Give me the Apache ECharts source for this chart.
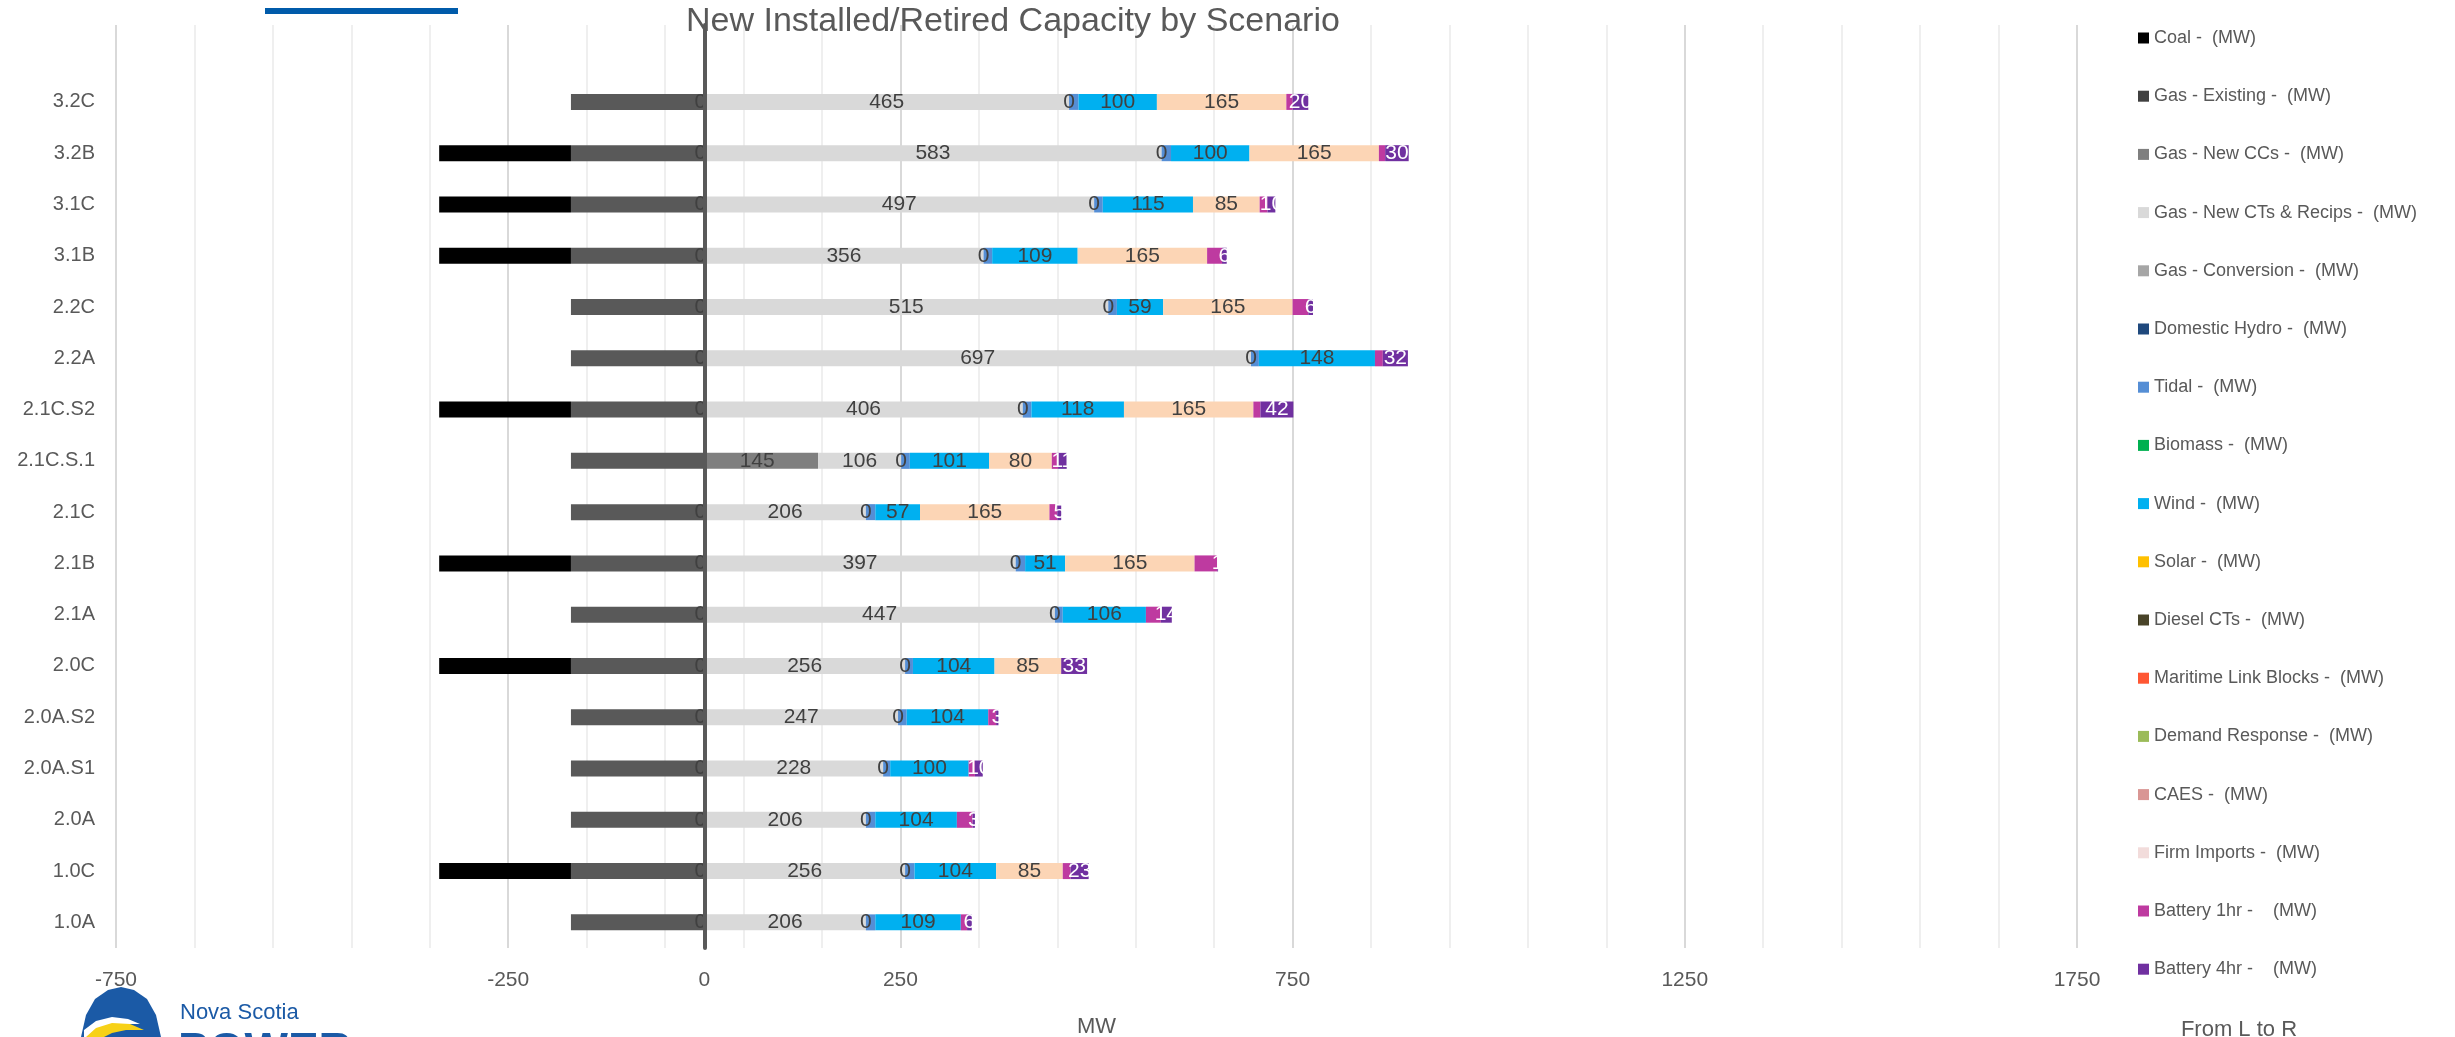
<!DOCTYPE html>
<html>
<head>
<meta charset="utf-8">
<script src="https://cdn.jsdelivr.net/npm/echarts@6/dist/echarts.min.js"></script>
<style>
html,body{margin:0;padding:0;background:#fff;}
#chart{width:2455px;height:1037px;}
</style>
</head>
<body>
<div id="chart"></div>
<script>
// Categories, bottom to top
const categories = ['1.0A','1.0C','2.0A','2.0A.S1','2.0A.S2','2.0C','2.1A','2.1B','2.1C','2.1C.S.1','2.1C.S2','2.2A','2.2C','3.1B','3.1C','3.2B','3.2C'];

// Series values (MW)
const coal           = [0,-168,0,0,0,-168,0,-168,0,0,-168,0,0,-168,-168,-168,0];
const gasExisting    = [-170,-170,-170,-170,-170,-170,-170,-170,-170,-170,-170,-170,-170,-170,-170,-170,-170];
const gasNewCC       = [0,0,0,0,0,0,0,0,0,145,0,0,0,0,0,0,0];
const gasNewCT       = [206,256,206,228,247,256,447,397,206,106,406,697,515,356,497,583,465];
const gasConversion  = [0,0,0,0,0,0,0,0,0,0,0,0,0,0,0,0,0];
const domesticHydro  = [0,0,0,0,0,0,0,0,0,0,0,0,0,0,0,0,0];
const tidal          = [12,12,12,9,11,10,10,12,12,11,11,10,11,11,11,12,12];
const biomass        = [0,0,0,0,0,0,0,0,0,0,0,0,0,0,0,0,0];
const wind           = [109,104,104,100,104,104,106,51,57,101,118,148,59,109,115,100,100];
const solar          = [0,0,0,0,0,0,0,0,0,0,0,0,0,0,0,0,0];
const dieselCT       = [0,0,0,0,0,0,0,0,0,0,0,0,0,0,0,0,0];
const maritimeLink   = [0,0,0,0,0,0,0,0,0,0,0,0,0,0,0,0,0];
const demandResponse = [0,0,0,0,0,0,0,0,0,0,0,0,0,0,0,0,0];
const caes           = [0,0,0,0,0,0,0,0,0,0,0,0,0,0,0,0,0];
const firmImports    = [null,85,null,null,null,85,null,165,165,80,165,null,165,165,85,165,165];
const battery1hr     = [8,10,20,8,10,0,19,29,10,8,9,10,20,19,10,8,8];
const battery4hr     = [6,23,3,10,3,33,14,1,5,11,42,32,6,6,10,30,20];

// Axis tick labels shown
const xTickLabels = [-750,-250,0,250,750,1250,1750];

const FONT = 'Liberation Sans, Arial, sans-serif';
const TXT = '#595959';

const seriesDefs = [
  {name:'Gas - Existing -  (MW)', data:gasExisting, color:'#595959', legendColor:'#404040', neg:true},
  {name:'Coal -  (MW)', data:coal, color:'#000000', neg:true},
  {name:'Gas - New CCs -  (MW)', data:gasNewCC, color:'#7F7F7F', label:true, offset:[-4,0]},
  {name:'Gas - New CTs & Recips -  (MW)', data:gasNewCT, color:'#D9D9D9', label:true},
  {name:'Gas - Conversion -  (MW)', data:gasConversion, color:'#A6A6A6', label:true},
  {name:'Domestic Hydro -  (MW)', data:domesticHydro, color:'#1F497D'},
  {name:'Tidal -  (MW)', data:tidal, color:'#558ED5'},
  {name:'Biomass -  (MW)', data:biomass, color:'#00B050'},
  {name:'Wind -  (MW)', data:wind, color:'#00B0F0', label:true},
  {name:'Solar -  (MW)', data:solar, color:'#FFC000'},
  {name:'Diesel CTs -  (MW)', data:dieselCT, color:'#494429'},
  {name:'Maritime Link Blocks -  (MW)', data:maritimeLink, color:'#FF5733'},
  {name:'Demand Response -  (MW)', data:demandResponse, color:'#9BBB59'},
  {name:'CAES -  (MW)', data:caes, color:'#D99694'},
  {name:'Firm Imports -  (MW)', data:firmImports, color:'#FCD5B5', legendColor:'#F2DCDB', label:true},
  {name:'Battery 1hr -    (MW)', data:battery1hr, color:'#BE3AA0'},
  {name:'Battery 4hr -    (MW)', data:battery4hr, color:'#7030A0', label:true, labelColor:'#FFFFFF'}
];

const legendOrder = ['Coal -  (MW)','Gas - Existing -  (MW)','Gas - New CCs -  (MW)','Gas - New CTs & Recips -  (MW)','Gas - Conversion -  (MW)','Domestic Hydro -  (MW)','Tidal -  (MW)','Biomass -  (MW)','Wind -  (MW)','Solar -  (MW)','Diesel CTs -  (MW)','Maritime Link Blocks -  (MW)','Demand Response -  (MW)','CAES -  (MW)','Firm Imports -  (MW)','Battery 1hr -    (MW)','Battery 4hr -    (MW)'];

const series = seriesDefs.map(d => ({
  name: d.name,
  type: 'bar',
  stack: 'total',
  stackStrategy: d.neg ? 'samesign' : 'positive',
  barWidth: 16,
  data: d.data,
  itemStyle: {color: d.color},
  emphasis: {disabled: true},
  label: {
    show: !!d.label,
    position: 'inside',
    offset: d.offset || [0, 0],
    fontFamily: FONT,
    fontSize: 21,
    color: d.labelColor || '#404040'
  }
}));

const legendData = legendOrder.map(n => {
  const d = seriesDefs.find(s => s.name === n);
  const item = {name: n};
  if (d.legendColor) item.itemStyle = {color: d.legendColor};
  return item;
});

const minor = '#EFEFEF', major = '#D9D9D9', none = 'rgba(0,0,0,0)';

const chart = echarts.init(document.getElementById('chart'), null, {renderer:'canvas'});
chart.setOption({
  animation: false,
  backgroundColor: '#ffffff',
  textStyle: {fontFamily: FONT},
  title: {
    text: 'New Installed/Retired Capacity by Scenario',
    left: 686, top: 5, padding: 0,
    textStyle: {fontFamily: FONT, fontSize: 34, fontWeight: 'normal', color: TXT}
  },
  legend: {
    orient: 'vertical',
    left: 2138, top: 28,
    padding: 0,
    itemWidth: 11, itemHeight: 11, itemGap: 38.2,
    icon: 'rect',
    selectedMode: false,
    textStyle: {fontFamily: FONT, fontSize: 18, color: TXT, lineHeight: 20},
    data: legendData
  },
  grid: {left: 116, right: 378, top: 25, bottom: 89, containLabel: false, outerBoundsMode: 'none'},
  xAxis: {
    type: 'value',
    min: -750, max: 1750, interval: 50,
    axisLine: {show: false},
    axisTick: {show: false},
    axisLabel: {
      margin: 22, fontSize: 21, color: TXT, fontFamily: FONT,
      formatter: v => xTickLabels.indexOf(v) >= 0 ? String(v) : ''
    },
    splitLine: {show: true, lineStyle: {width: 2, color: [major, none, minor, none, minor, none, minor, none, minor, none]}},
    name: 'MW', nameLocation: 'middle', nameGap: 68,
    nameTextStyle: {fontFamily: FONT, fontSize: 22, color: TXT}
  },
  yAxis: [
    {
      type: 'category', data: categories.concat(['']), position: 'left',
      axisLine: {show: false, onZero: false},
      axisTick: {show: false},
      axisLabel: {margin: 21, fontSize: 20, color: TXT, fontFamily: FONT},
      splitLine: {show: false}
    },
    {
      type: 'category', data: categories.concat(['']), position: 'left',
      axisLine: {show: true, onZero: true, lineStyle: {color: '#595959', width: 4}},
      axisTick: {show: false},
      axisLabel: {show: false},
      splitLine: {show: false},
      z: 10
    }
  ],
  graphic: [
    {type: 'rect', shape: {x: 265, y: 8, width: 193, height: 6}, style: {fill: '#005BAA'}},
    {type: 'text', x: 2239, y: 1030, style: {text: 'From L to R', fontFamily: FONT, fontSize: 22, fill: TXT, align: 'center', verticalAlign: 'middle'}},
    {type: 'polygon', shape: {points: [[81,1037],[86,1015],[95,999],[108,990],[121,987],[134,990],[147,999],[156,1015],[161,1037]]}, style: {fill: '#1B5AA6'}},
    {type: 'polygon', shape: {points: [[84,1030],[96,1021],[112,1017],[128,1019],[140,1024],[124,1024],[108,1028],[96,1037],[84,1037]]}, style: {fill: '#FFFFFF'}},
    {type: 'polygon', shape: {points: [[86,1037],[96,1028],[112,1023],[130,1024],[144,1030],[126,1030],[112,1033],[104,1037]]}, style: {fill: '#F7D117'}},
    {type: 'text', x: 180, y: 1013, style: {text: 'Nova Scotia', fontFamily: FONT, fontSize: 22, fill: '#1B5AA6', verticalAlign: 'middle'}},
    {type: 'text', x: 178, y: 1029, style: {text: 'POWER', fontFamily: FONT, fontSize: 46, fontWeight: 'bold', fill: '#1B5AA6', verticalAlign: 'top'}}
  ],
  series: series
});
</script>
</body>
</html>
